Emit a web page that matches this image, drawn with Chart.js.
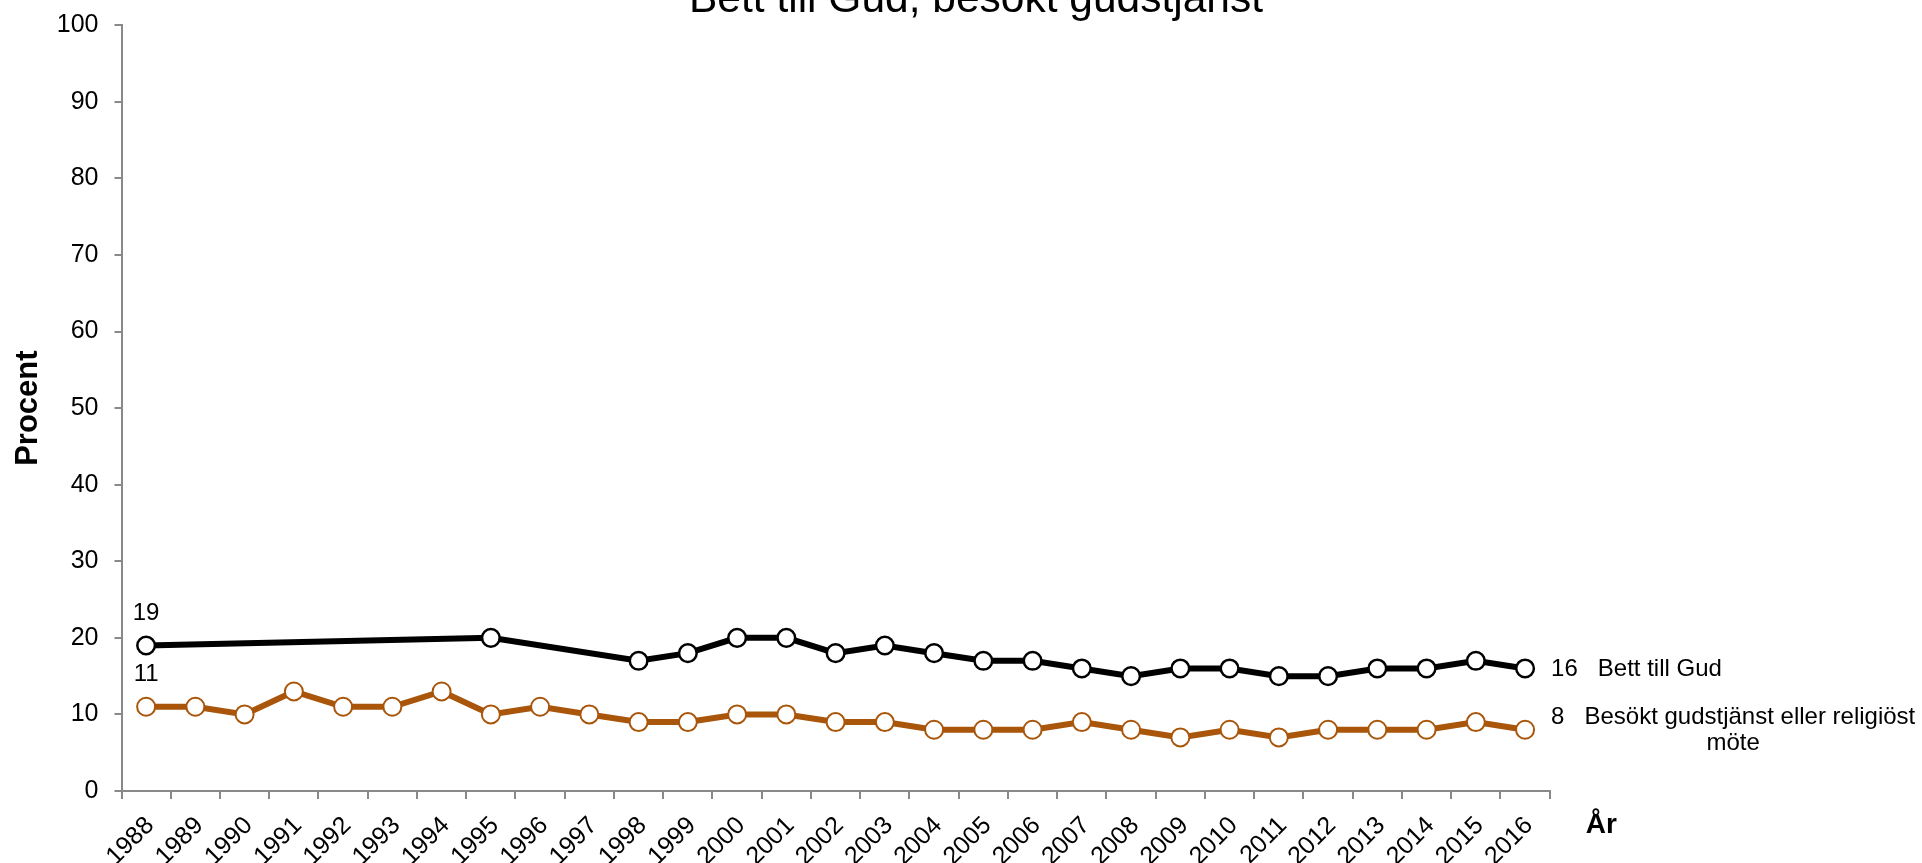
<!DOCTYPE html>
<html>
<head>
<meta charset="utf-8">
<script src="https://cdn.jsdelivr.net/npm/chart.js@4"></script>
<style>
  html, body { margin: 0; padding: 0; background: #fff; overflow: hidden; }
  #frame { position: relative; width: 1922px; height: 863px; overflow: hidden; }
  #wrap { position: absolute; left: 0; top: -23px; width: 1952px; height: 886px; }
</style>
</head>
<body>
<div id="frame"><div id="wrap"><canvas id="chart"></canvas></div></div>
<script>
// ---- data ----
const years = ['1988', '1989', '1990', '1991', '1992', '1993', '1994', '1995', '1996', '1997',
               '1998', '1999', '2000', '2001', '2002', '2003', '2004', '2005', '2006', '2007',
               '2008', '2009', '2010', '2011', '2012', '2013', '2014', '2015', '2016'];

const bettTillGud = [19, null, null, null, null, null, null, 20, null, null,
                     17, 18, 20, 20, 18, 19, 18, 17, 17, 16,
                     15, 16, 16, 15, 15, 16, 16, 17, 16];

const besoktGudstjanst = [11, 11, 10, 13, 11, 11, 13, 10, 11, 10,
                          9, 9, 10, 10, 9, 9, 8, 8, 8, 9,
                          8, 7, 8, 7, 8, 8, 8, 9, 8];

const seriesNames = ['Bett till Gud', ['Besökt gudstjänst eller religiöst', 'möte']];
const yTicks = [0, 10, 20, 30, 40, 50, 60, 70, 80, 90, 100];

const FONT = '"Liberation Sans", Arial, sans-serif';
const BROWN = '#A9560B';
const AXIS = '#898989';

// labels for first and last points, plus the "År" axis caption
const labelPlugin = {
    id: 'pointLabels',
    afterDatasetsDraw(chart) {
        const ctx = chart.ctx;
        ctx.save();
        ctx.fillStyle = '#000';
        ctx.font = '24px ' + FONT;

        chart.data.datasets.forEach((ds, i) => {
            const meta = chart.getDatasetMeta(i);
            const first = meta.data[0];
            const lastIdx = ds.data.length - 1;
            const last = meta.data[lastIdx];

            // first value above point
            ctx.textAlign = 'center';
            ctx.textBaseline = 'alphabetic';
            ctx.fillText(String(ds.data[0]), first.x, first.y - 26);

            // last value + series name to the right
            const name = seriesNames[i];
            const lines = Array.isArray(name) ? name : [name];
            const line1 = ds.data[lastIdx] + '   ' + lines[0];
            const x0 = last.x + 26;
            const lh = 26;
            const startY = last.y - (lines.length - 1) * lh / 2;
            ctx.textBaseline = 'middle';
            ctx.textAlign = 'left';
            ctx.fillText(line1, x0, startY + 1);
            const w1 = ctx.measureText(line1).width;
            for (let k = 1; k < lines.length; k++) {
                ctx.textAlign = 'center';
                ctx.fillText(lines[k], x0 + w1 / 2, startY + k * lh + 1);
            }
        });

        const area = chart.chartArea;
        ctx.font = 'bold 28px ' + FONT;
        ctx.textAlign = 'left';
        ctx.textBaseline = 'alphabetic';
        ctx.fillText('År', area.right + 36, area.bottom + 42);
        ctx.restore();
    }
};

new Chart(document.getElementById('chart'), {
    type: 'line',
    data: {
        labels: years,
        datasets: [{
            label: 'Bett till Gud',
            data: bettTillGud,
            borderColor: '#000',
            borderWidth: 6,
            pointBackgroundColor: '#fff',
            pointBorderColor: '#000',
            pointBorderWidth: 2.5,
            pointRadius: 8.8,
            spanGaps: true,
            tension: 0
        }, {
            label: 'Besökt gudstjänst eller religiöst möte',
            data: besoktGudstjanst,
            borderColor: BROWN,
            borderWidth: 6,
            pointBackgroundColor: '#fff',
            pointBorderColor: BROWN,
            pointBorderWidth: 2,
            pointRadius: 9,
            tension: 0
        }]
    },
    options: {
        responsive: true,
        maintainAspectRatio: false,
        animation: false,
        layout: { padding: 0 },
        plugins: {
            legend: { display: false },
            tooltip: { enabled: false },
            title: {
                display: true,
                text: 'Bett till Gud, besökt gudstjänst',
                color: '#000',
                font: { family: FONT, size: 42.5, weight: 'normal', lineHeight: 1.1 },
                padding: { top: 0, bottom: 1.5 }
            }
        },
        scales: {
            x: {
                type: 'category',
                offset: true,
                grid: {
                    offset: true,
                    drawOnChartArea: false,
                    drawTicks: true,
                    tickLength: 8,
                    color: AXIS,
                    lineWidth: 2
                },
                border: { color: AXIS, width: 2 },
                ticks: {
                    color: '#000',
                    font: { family: FONT, size: 25 },
                    autoSkip: false,
                    maxRotation: 45,
                    minRotation: 45,
                    padding: 12,
                    labelOffset: 4
                },
                afterFit(scale) { scale.height = 72; }
            },
            y: {
                min: 0,
                max: 100,
                afterBuildTicks(scale) { scale.ticks = yTicks.map(v => ({ value: v })); },
                grid: {
                    drawOnChartArea: false,
                    drawTicks: true,
                    tickLength: 7,
                    color: AXIS,
                    lineWidth: 2
                },
                border: { color: AXIS, width: 2 },
                ticks: {
                    color: '#000',
                    font: { family: FONT, size: 25 },
                    padding: 16
                },
                title: {
                    display: true,
                    text: 'Procent',
                    color: '#000',
                    font: { family: FONT, size: 31, weight: 'bold', lineHeight: 1.2 },
                    padding: { top: 10, bottom: 0 }
                },
                afterFit(scale) { scale.width = 121.5; }
            },
            // empty right-hand box that holds the space for the end labels
            side: {
                position: 'right',
                min: 0,
                max: 100,
                ticks: { display: false },
                grid: { display: false },
                border: { display: false },
                afterFit(scale) { scale.width = 402.3; }
            }
        }
    },
    plugins: [labelPlugin]
});
</script>
</body>
</html>
